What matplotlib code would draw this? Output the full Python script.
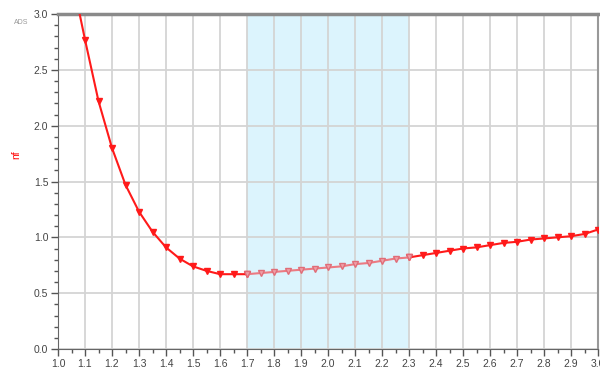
import matplotlib
matplotlib.use("Agg")
import matplotlib.pyplot as plt
from matplotlib.ticker import MultipleLocator, FormatStrFormatter
import numpy as np

plt.rcParams['font.family'] = ['Liberation Sans', 'DejaVu Sans']

freq = [1.05, 1.10, 1.15, 1.20, 1.25, 1.30, 1.35, 1.40, 1.45, 1.50, 1.55, 1.60, 1.65, 1.70,
        1.75, 1.80, 1.85, 1.90, 1.95, 2.00, 2.05, 2.10, 2.15, 2.20, 2.25, 2.30,
        2.35, 2.40, 2.45, 2.50, 2.55, 2.60, 2.65, 2.70, 2.75, 2.80, 2.85, 2.90, 2.95, 3.00]
nf = [3.35, 2.77, 2.22, 1.80, 1.47, 1.23, 1.05, 0.91, 0.81, 0.74, 0.70, 0.67, 0.67, 0.67,
      0.68, 0.69, 0.70, 0.71, 0.72, 0.73, 0.74, 0.76, 0.77, 0.79, 0.81, 0.82,
      0.84, 0.86, 0.88, 0.90, 0.91, 0.93, 0.95, 0.96, 0.98, 0.99, 1.00, 1.01, 1.03, 1.07]
band = (1.7, 2.3)

fig = plt.figure(figsize=(6, 3.72), dpi=100)
ax = fig.add_axes([58/600, 1-349/372, 540/600, 335/372])

ax.axvspan(band[0], band[1], color='#dcf4fd', zorder=0, lw=0)

f = np.array(freq); v = np.array(nf)
inb = (f >= band[0]) & (f <= band[1])
left = f <= band[0] + 1e-9
right = f >= band[1] - 1e-9
ax.plot(f[left], v[left], color='#ff1a1a', lw=1.5, marker='v', ms=4, zorder=3)
ax.plot(f[right], v[right], color='#ff1a1a', lw=1.5, marker='v', ms=4, zorder=3)
ax.plot(f[inb], v[inb], color='#ec7a82', lw=1.5, marker='v', ms=4,
        mfc='#f0a0a8', mec='#e06d78', zorder=3)

ax.set_xlim(1.0, 3.0)
ax.set_ylim(0.0, 3.0)
ax.xaxis.set_major_locator(MultipleLocator(0.1))
ax.xaxis.set_minor_locator(MultipleLocator(0.05))
ax.yaxis.set_major_locator(MultipleLocator(0.5))
ax.yaxis.set_minor_locator(MultipleLocator(0.1))
ax.xaxis.set_major_formatter(FormatStrFormatter('%.1f'))
ax.yaxis.set_major_formatter(FormatStrFormatter('%.1f'))

ax.grid(True, which='major', color='#d4d4d4', lw=1.3, zorder=1)
ax.set_axisbelow(True)
ax.tick_params(which='both', direction='out', colors='#555555', width=1, pad=2)
ax.tick_params(which='major', length=5, labelsize=7.5, labelcolor='#444444')
ax.tick_params(which='minor', length=3)

ax.spines['left'].set_color('#666666')
ax.spines['bottom'].set_color('#666666')
ax.spines['top'].set_color('#8a8a8a')
ax.spines['top'].set_linewidth(2.5)
ax.spines['right'].set_color('#999999')
ax.spines['right'].set_linewidth(1.5)

fig.text(16/600, 1-155/372, 'nf', color='red', fontsize=7.5, rotation=90,
         ha='center', va='center')
fig.text(14/600, 1-22/372, 'ADS', fontsize=5, color='#999999', ha='left', va='center')

fig.savefig('out.png', dpi=100)
